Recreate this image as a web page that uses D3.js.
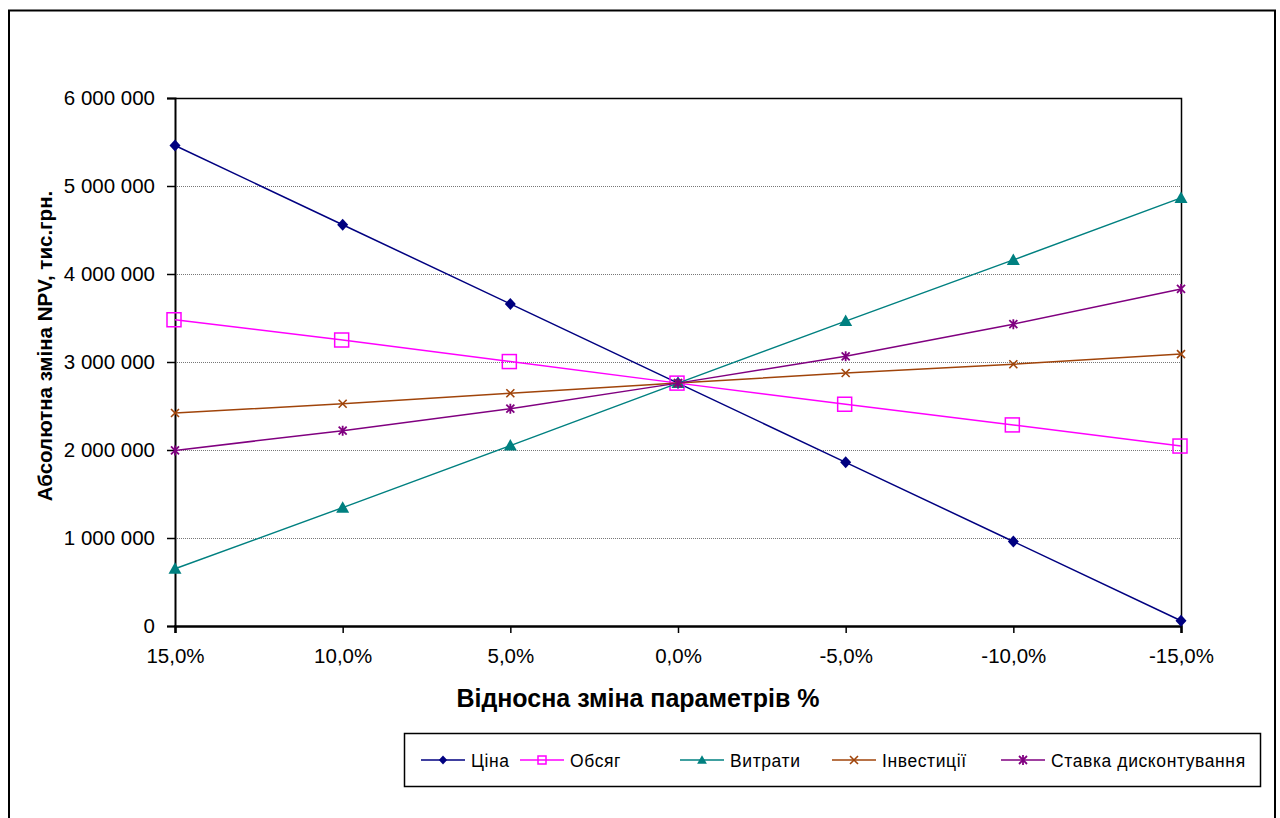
<!DOCTYPE html>
<html><head><meta charset="utf-8">
<script src="https://cdn.jsdelivr.net/npm/d3@7"></script>
<style>body{margin:0;background:#fff;} svg{display:block;font-family:"Liberation Sans",Arial,sans-serif;}</style>
</head><body>
<svg id="c" width="1280" height="818"></svg>
<script>
const categories = ["15,0%","10,0%","5,0%","0,0%","-5,0%","-10,0%","-15,0%"];
const yTicks = [0,1000000,2000000,3000000,4000000,5000000,6000000];
const seriesNames = ["Ціна","Обсяг","Витрати","Інвестиції","Ставка дисконтування"];
const cina = [5460000,4560000,3660000,2760000,1860000,960000,60000];
const obsyag = [3480000,3250000,3005000,2760000,2520000,2285000,2045000];
const vytraty = [650000,1345000,2050000,2760000,3465000,4160000,4865000];
const investytsii = [2420000,2525000,2645000,2760000,2875000,2975000,3090000];
const stavka = [1995000,2220000,2470000,2760000,3065000,3430000,3830000];

const seriesValues = [cina, obsyag, vytraty, investytsii, stavka];
const colors = ["#000080","#FF00FF","#008080","#A0440A","#800080"];
const markers = ["diamond","square","triangle","x","star"];

const svg = d3.select("#c");
const L=175,R=1181,T=98,B=626;
const x = d3.scalePoint().domain(categories).range([L,R]).padding(0);
const y = d3.scaleLinear().domain([0,6000000]).range([B,T]);

// outer frame
svg.append("rect").attr("x",9).attr("y",10.5).attr("width",1266).attr("height",830)
  .attr("fill","none").attr("stroke","#000").attr("stroke-width",2);

// gridlines
svg.append("g").selectAll("line").data(yTicks.filter(d=>d>0&&d<6000000)).join("line")
  .attr("x1",L).attr("x2",R).attr("y1",d=>Math.round(y(d))+0.5).attr("y2",d=>Math.round(y(d))+0.5)
  .attr("stroke","#777").attr("stroke-width",1).attr("stroke-dasharray","1,1");

// plot border top/right
svg.append("path").attr("d",`M${L},${T+0.5}H${R+0.5}V${B}`).attr("fill","none").attr("stroke","#000").attr("stroke-width",1.5);

const fmt = d=>d3.format(",")(d).replace(/,/g," ");
// y axis
const ya = svg.append("g").attr("transform",`translate(${L},0)`)
  .call(d3.axisLeft(y).tickValues(yTicks).tickFormat(fmt).tickSize(8).tickPadding(12));
ya.attr("font-size",20.5).attr("font-family","Liberation Sans, Arial, sans-serif");
ya.select(".domain").attr("stroke-width",2);
ya.selectAll(".tick line").attr("stroke-width",1.5);
ya.selectAll("text").attr("fill","#000");

// x axis
const xa = svg.append("g").attr("transform",`translate(0,${B})`)
  .call(d3.axisBottom(x).tickSize(7).tickPadding(15));
xa.attr("font-size",20.5).attr("font-family","Liberation Sans, Arial, sans-serif");
xa.select(".domain").attr("stroke-width",2.5);
xa.selectAll(".tick line").attr("stroke-width",1.5);
xa.selectAll("text").attr("fill","#000");

// titles
svg.append("text").attr("transform","translate(52,346) rotate(-90)").attr("text-anchor","middle")
  .attr("font-size",20.5).attr("font-weight","bold").text("Абсолютна зміна NPV, тис.грн.");
svg.append("text").attr("x",638).attr("y",707).attr("text-anchor","middle")
  .attr("font-size",25).attr("font-weight","bold").text("Відносна зміна параметрів %");

function drawMarker(g, type, color, cx, cy, small){
  const k = small ? 0.75 : 1;
  if(type==="diamond"){
    g.append("path").attr("d",`M${cx},${cy-6*k}L${cx+5.5*k},${cy}L${cx},${cy+6*k}L${cx-5.5*k},${cy}Z`).attr("fill",color);
  } else if(type==="square"){
    const s = small ? 8 : 14;
    g.append("rect").attr("x",cx-s/2-(small?0:1)).attr("y",cy-s/2).attr("width",s).attr("height",s).attr("fill","none").attr("stroke",color).attr("stroke-width",1.5);
  } else if(type==="triangle"){
    g.append("path").attr("d",`M${cx},${cy-6.5*k}L${cx+6.5*k},${cy+5*k}L${cx-6.5*k},${cy+5*k}Z`).attr("fill",color);
  } else if(type==="x"){
    g.append("path").attr("d",`M${cx-4},${cy-4}L${cx+4},${cy+4}M${cx+4},${cy-4}L${cx-4},${cy+4}`).attr("stroke",color).attr("stroke-width",1.6);
  } else if(type==="star"){
    g.append("path").attr("d",`M${cx-4},${cy-4}L${cx+4},${cy+4}M${cx+4},${cy-4}L${cx-4},${cy+4}M${cx},${cy-5}V${cy+5}`).attr("stroke",color).attr("stroke-width",1.8);
  }
}

const line = d3.line().x((d,i)=>x(categories[i])).y(d=>y(d));
seriesValues.forEach((vals,s)=>{
  const g = svg.append("g");
  g.append("path").datum(vals).attr("d",line).attr("fill","none").attr("stroke",colors[s]).attr("stroke-width",1.5);
  vals.forEach((v,i)=>drawMarker(g,markers[s],colors[s],x(categories[i]),y(v),false));
});

// legend
svg.append("rect").attr("x",404.5).attr("y",733.5).attr("width",856).attr("height",53)
  .attr("fill","#fff").attr("stroke","#000").attr("stroke-width",1.5);
const legX = [421,520,680,832,1001];
seriesNames.forEach((n,s)=>{
  const g = svg.append("g");
  const lx = legX[s], ly = 760;
  g.append("line").attr("x1",lx).attr("x2",lx+44).attr("y1",ly).attr("y2",ly).attr("stroke",colors[s]).attr("stroke-width",1.5);
  drawMarker(g,markers[s],colors[s],lx+22,ly,true);
  g.append("text").attr("x",lx+50).attr("y",ly+6.5).attr("font-size",17.5).attr("letter-spacing",0.6).text(n);
});
</script>
</body></html>
